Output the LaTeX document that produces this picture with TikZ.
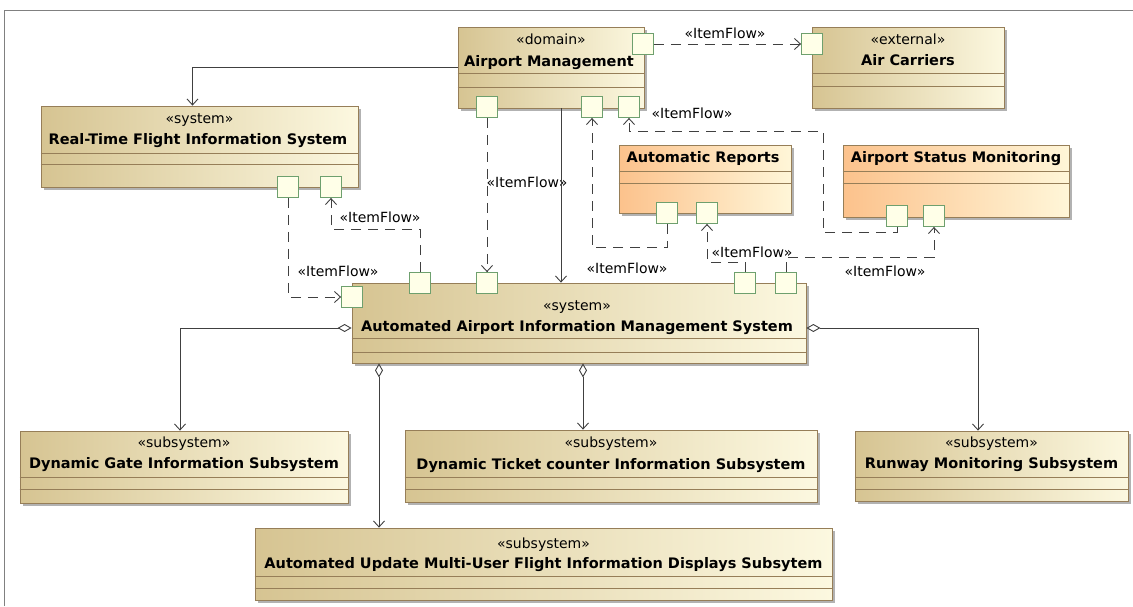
\documentclass[tikz,border=0pt]{standalone}
\usepackage{fontspec}
\setmainfont{DejaVu Sans}
\usetikzlibrary{arrows.meta,shadows}

\definecolor{tanL}{RGB}{214,196,146}
\definecolor{tanR}{RGB}{252,248,224}
\definecolor{orL}{RGB}{252,194,140}
\definecolor{orR}{RGB}{255,246,216}
\definecolor{boxline}{RGB}{150,126,88}
\definecolor{portline}{RGB}{110,160,110}
\definecolor{portfill}{RGB}{255,255,232}
\definecolor{lineclr}{RGB}{64,64,64}

\tikzset{
  box/.style={draw=boxline, line width=0.8pt, inner sep=0pt,
    left color=tanL, right color=tanR,
    drop shadow={shadow xshift=3pt, shadow yshift=-3pt, fill=black, opacity=.3}},
  orbox/.style={box, left color=orL, right color=orR},
  sep/.style={draw=boxline, line width=0.8pt},
  stereo/.style={anchor=base, inner sep=0pt, font=\fontsize{14}{16}\selectfont},
  title/.style={anchor=base, inner sep=0pt, font=\fontsize{14.5}{17}\selectfont\bfseries},
  port/.style={draw=portline, fill=portfill, line width=0.8pt, minimum size=21pt, inner sep=0pt},
  flow/.style={draw=lineclr, line width=0.9pt, dash pattern=on 10pt off 7pt,
    -{Straight Barb[length=6pt,width=11pt]}},
  assoc/.style={draw=lineclr, line width=0.9pt, -{Straight Barb[length=6pt,width=11pt]}},
  agg/.style={assoc, {Diamond[open,length=14pt,width=8pt]}-{Straight Barb[length=6pt,width=11pt]}}
}

\begin{document}
\begin{tikzpicture}[x=1pt,y=-1pt]
\useasboundingbox (0,0) rectangle (1133,606);
\draw[gray] (4,606) -- (4,10) -- (1133,10);

% blocks
\node[box, minimum width=186pt, minimum height=81pt] (am) at (551,67.5) {};
\node[box, minimum width=192pt, minimum height=81pt] (ac) at (908,67.5) {};
\node[box, minimum width=317pt, minimum height=81pt] (rt) at (199.5,146.5) {};
\node[orbox, minimum width=172pt, minimum height=68pt] (ar) at (705,179) {};
\node[orbox, minimum width=226pt, minimum height=72pt] (as) at (956,181) {};
\node[box, minimum width=454pt, minimum height=80pt] (ai) at (579,323) {};
\node[box, minimum width=328pt, minimum height=72pt] (dg) at (184,467) {};
\node[box, minimum width=412pt, minimum height=72pt] (dt) at (611,466) {};
\node[box, minimum width=273pt, minimum height=70pt] (rm) at (991.5,466) {};
\node[box, minimum width=577pt, minimum height=72pt] (au) at (543.5,564) {};

% compartments
\draw[sep] (am.west |- 0,73) -- (am.east |- 0,73) (am.west |- 0,87) -- (am.east |- 0,87);
\draw[sep] (ac.west |- 0,73) -- (ac.east |- 0,73) (ac.west |- 0,86) -- (ac.east |- 0,86);
\draw[sep] (rt.west |- 0,153) -- (rt.east |- 0,153) (rt.west |- 0,164) -- (rt.east |- 0,164);
\draw[sep] (ar.west |- 0,171) -- (ar.east |- 0,171) (ar.west |- 0,183) -- (ar.east |- 0,183);
\draw[sep] (as.west |- 0,171) -- (as.east |- 0,171) (as.west |- 0,183) -- (as.east |- 0,183);
\draw[sep] (ai.west |- 0,338) -- (ai.east |- 0,338) (ai.west |- 0,352) -- (ai.east |- 0,352);
\draw[sep] (dg.west |- 0,477) -- (dg.east |- 0,477) (dg.west |- 0,489) -- (dg.east |- 0,489);
\draw[sep] (dt.west |- 0,477) -- (dt.east |- 0,477) (dt.west |- 0,489) -- (dt.east |- 0,489);
\draw[sep] (rm.west |- 0,477) -- (rm.east |- 0,477) (rm.west |- 0,489) -- (rm.east |- 0,489);
\draw[sep] (au.west |- 0,576) -- (au.east |- 0,576) (au.west |- 0,588) -- (au.east |- 0,588);

% texts
\node[stereo] (am-st) at (551,44) {«domain»};
\node[title] (am-nm) at (549,66) {Airport Management};
\node[stereo] (ac-st) at (908,44) {«external»};
\node[title] (ac-nm) at (908,65) {Air Carriers};
\node[stereo] (rt-st) at (199.5,123) {«system»};
\node[title] (rt-nm) at (198,144) {Real-Time Flight Information System};
\node[title] (ar-nm) at (703,162) {Automatic Reports};
\node[title] (as-nm) at (956,162) {Airport Status Monitoring};
\node[stereo] (ai-st) at (577,310) {«system»};
\node[title] (ai-nm) at (577,331) {Automated Airport Information Management System};
\node[stereo] (dg-st) at (184,447) {«subsystem»};
\node[title] (dg-nm) at (184,468) {Dynamic Gate Information Subsystem};
\node[stereo] (dt-st) at (611,447) {«subsystem»};
\node[title] (dt-nm) at (611,469) {Dynamic Ticket counter Information Subsystem};
\node[stereo] (rm-st) at (991.5,447) {«subsystem»};
\node[title] (rm-nm) at (991.5,468) {Runway Monitoring Subsystem};
\node[stereo] (au-st) at (543.5,548) {«subsystem»};
\node[title] (au-nm) at (543.5,568) {Automated Update Multi-User Flight Information Displays Subsytem};

% ports
\node[port] (pAMr) at (643,44) {};
\node[port] (pAMa) at (487,107) {};
\node[port] (pAMb) at (592,107) {};
\node[port] (pAMc) at (629,107) {};
\node[port] (pAC) at (812,44) {};
\node[port] (pRTa) at (288,187) {};
\node[port] (pRTb) at (331,187) {};
\node[port] (pAIa) at (352,297) {};
\node[port] (pAIb) at (420,283) {};
\node[port] (pAIc) at (487,283) {};
\node[port] (pAId) at (745,283) {};
\node[port] (pAIe) at (786,283) {};
\node[port] (pARa) at (667,213) {};
\node[port] (pARb) at (707,213) {};
\node[port] (pASa) at (897,216) {};
\node[port] (pASb) at (934,216) {};

% item flows
\draw[flow] (pAMr) -- (pAC);
\draw[flow] (pAMa) -- (pAIc);
\draw[flow] (pARa.south) -- ++(0,24) -| (pAMb.south);
\draw[flow] (pASa.south) -- ++(0,6) -| (823,131) -| (pAMc.south);
\draw[flow] (pAId.north) -- ++(0,-10) -| (pARb.south);
\draw[flow] (pAIe.north) -- ++(0,-15) -| (pASb.south);
\draw[flow] (pRTa.south) |- (pAIa.west);
\draw[flow] (pAIb.north) -- ++(0,-43) -| (pRTb.south);

\node[stereo] (lf1) at (725,38) {«ItemFlow»};
\node[stereo] (lf2) at (527,187) {«ItemFlow»};
\node[stereo] (lf3) at (627,273) {«ItemFlow»};
\node[stereo] (lf4) at (692,118) {«ItemFlow»};
\node[stereo] (lf5) at (752,257) {«ItemFlow»};
\node[stereo] (lf6) at (885,276) {«ItemFlow»};
\node[stereo] (lf7) at (338,276) {«ItemFlow»};
\node[stereo] (lf8) at (380,222) {«ItemFlow»};

% associations
\coordinate (amv) at ([xshift=10pt]am.south);
\draw[assoc] (am.west) -| ([xshift=-7pt]rt.north);
\draw[assoc] (amv) -- (amv |- ai.north);

\coordinate (aiw) at ([yshift=-5pt]ai.west);
\coordinate (aie) at ([yshift=-5pt]ai.east);
\coordinate (aiau) at ([xshift=-200pt]ai.south);
\coordinate (aidt) at ([xshift=4pt]ai.south);
\draw[agg] (aiw) -| ([xshift=-4pt]dg.north);
\draw[agg] (aiau) -- (aiau |- au.north);
\draw[agg] (aidt) -- (aidt |- dt.north);
\draw[agg] (aie) -| ([xshift=-13.5pt]rm.north);
\end{tikzpicture}
\end{document}
